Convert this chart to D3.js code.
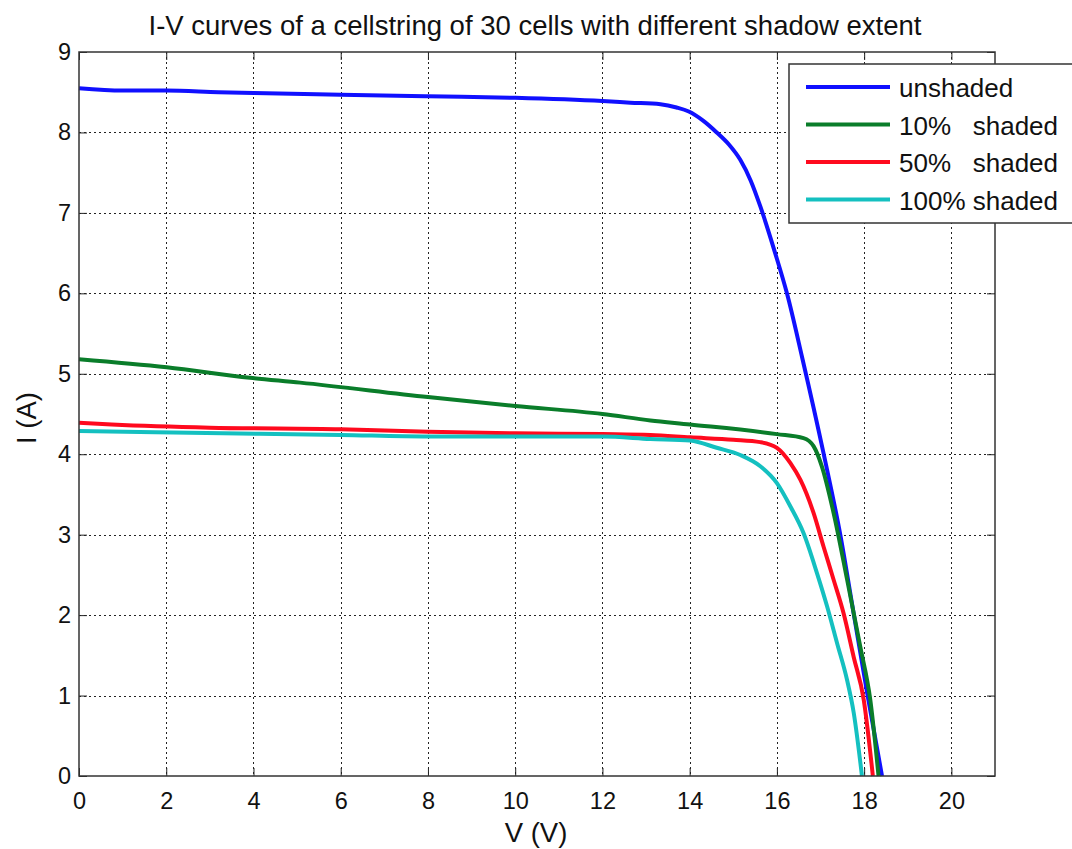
<!DOCTYPE html>
<html lang="en">
<head>
    <meta charset="UTF-8">
    <title>I-V curves of a cellstring</title>
    <script src="https://d3js.org/d3.v7.min.js"></script>
    <style>
        body { margin: 0; background: #fff; }
        svg { display: block; font-family: "Liberation Sans", Arial, Helvetica, sans-serif; }
        .grid line { stroke: #222; stroke-width: 1; stroke-dasharray: 2,3; shape-rendering: crispEdges; }
        .axis text { font-size: 23.5px; fill: #111; }
        .axis line, .axis path { stroke: #222; }
        .curve { fill: none; stroke-width: 4px; stroke-linejoin: round; }
        .legend text { font-size: 26px; fill: #111; white-space: pre; }
        .label { font-size: 27.5px; fill: #111; }
    </style>
</head>
<body>
<div id="chart"></div>
<script>
    // --- data (V in volts, I in amps) ---
    const xTicks = [0, 2, 4, 6, 8, 10, 12, 14, 16, 18, 20];
    const yTicks = [0, 1, 2, 3, 4, 5, 6, 7, 8, 9];

    const unshadedV = [0, 1, 2, 3.2, 4, 6, 8, 10, 12, 12.64, 13.33, 13.7, 13.98, 14.3, 14.62, 14.9, 15.16, 15.4, 15.62, 15.96, 16.23, 16.58, 17.07, 17.46, 17.76, 18.07, 18.41];
    const unshadedI = [8.55, 8.52, 8.52, 8.50, 8.49, 8.47, 8.45, 8.43, 8.39, 8.37, 8.35, 8.31, 8.26, 8.15, 8.0, 7.85, 7.66, 7.4, 7.08, 6.5, 6.0, 5.2, 4.01, 2.98, 2.02, 1.03, 0];

    const shaded10V = [0, 2.01, 3.92, 5.07, 8, 10, 12, 13.1, 14.01, 16.0, 16.61, 16.84, 17.03, 17.3, 17.61, 17.91, 18.14, 18.33];
    const shaded10I = [5.18, 5.08, 4.95, 4.89, 4.71, 4.60, 4.50, 4.42, 4.37, 4.25, 4.2, 4.1, 3.85, 3.27, 2.44, 1.61, 0.95, 0];

    const shaded50V = [0, 0.75, 3.0, 6, 8, 10, 12, 13.1, 14.01, 15.0, 15.62, 16.0, 16.31, 16.54, 16.84, 17.07, 17.3, 17.53, 17.76, 17.99, 18.2];
    const shaded50I = [4.39, 4.37, 4.33, 4.31, 4.28, 4.26, 4.25, 4.24, 4.21, 4.18, 4.15, 4.08, 3.89, 3.68, 3.27, 2.85, 2.44, 2.02, 1.48, 0.95, 0];

    const shaded100V = [0, 2.16, 6, 8, 12, 13.1, 14.01, 14.62, 15.16, 15.62, 16.0, 16.31, 16.61, 16.92, 17.15, 17.38, 17.61, 17.76, 17.95];
    const shaded100I = [4.29, 4.27, 4.24, 4.22, 4.22, 4.19, 4.17, 4.08, 3.99, 3.85, 3.64, 3.35, 3.02, 2.52, 2.11, 1.65, 1.19, 0.79, 0];

    const seriesNames = ["unshaded", "10%   shaded", "50%   shaded", "100% shaded"];
    const seriesColors = ["#1010ff", "#0a7d2a", "#ff0a1e", "#14c0c0"];
    const seriesV = [unshadedV, shaded10V, shaded50V, shaded100V];
    const seriesI = [unshadedI, shaded10I, shaded50I, shaded100I];

    // --- layout ---
    const W = 1072, H = 849;
    const plotL = 79, plotT = 52, plotR = 995, plotB = 776;

    const svg = d3.select("#chart").append("svg").attr("width", W).attr("height", H);

    const x = d3.scaleLinear().domain([0, 21]).range([plotL, plotR]);
    const y = d3.scaleLinear().domain([0, 9]).range([plotB, plotT]);

    // grid (dotted)
    const grid = svg.append("g").attr("class", "grid");
    grid.selectAll(".gx").data(xTicks.filter(d => d > 0)).join("line")
        .attr("x1", d => Math.round(x(d)) + 0.5).attr("x2", d => Math.round(x(d)) + 0.5)
        .attr("y1", plotT).attr("y2", plotB);
    grid.selectAll(".gy").data(yTicks.filter(d => d > 0 && d < 9)).join("line")
        .attr("y1", d => Math.round(y(d)) + 0.5).attr("y2", d => Math.round(y(d)) + 0.5)
        .attr("x1", plotL).attr("x2", plotR);

    // axes with inward ticks (MATLAB style)
    const tickLen = 8;
    svg.append("g").attr("class", "axis").attr("transform", `translate(0,${plotB})`)
        .call(d3.axisBottom(x).tickValues(xTicks).tickSize(-tickLen).tickPadding(16).tickFormat(d3.format("d")));
    svg.append("g").attr("class", "axis").attr("transform", `translate(${plotL},0)`)
        .call(d3.axisLeft(y).tickValues(yTicks).tickSize(-tickLen).tickPadding(8).tickFormat(d3.format("d")));
    svg.append("g").attr("class", "axis").attr("transform", `translate(0,${plotT})`)
        .call(d3.axisTop(x).tickValues(xTicks).tickSize(-tickLen).tickFormat(""));
    svg.append("g").attr("class", "axis").attr("transform", `translate(${plotR},0)`)
        .call(d3.axisRight(y).tickValues(yTicks).tickSize(-tickLen).tickFormat(""));
    svg.selectAll(".axis .domain").remove();

    // curves
    const line = d3.line().x(d => x(d[0])).y(d => y(d[1])).curve(d3.curveMonotoneX);
    seriesV.forEach((vs, k) => {
        svg.append("path").attr("class", "curve")
            .attr("stroke", seriesColors[k])
            .attr("d", line(vs.map((v, i) => [v, seriesI[k][i]])));
    });

    // frame
    svg.append("rect").attr("x", plotL).attr("y", plotT)
        .attr("width", plotR - plotL).attr("height", plotB - plotT)
        .attr("fill", "none").attr("stroke", "#333").attr("stroke-width", 1.5);

    // title and axis labels
    svg.append("text").attr("class", "label").attr("x", 535).attr("y", 35).attr("text-anchor", "middle")
        .text("I-V curves of a cellstring of 30 cells with different shadow extent");
    svg.append("text").attr("class", "label").attr("x", 536).attr("y", 842).attr("text-anchor", "middle")
        .text("V (V)");
    svg.append("text").attr("class", "label").attr("transform", "translate(36,418) rotate(-90)")
        .attr("text-anchor", "middle").text("I (A)");

    // legend
    const legend = svg.append("g").attr("class", "legend");
    legend.append("rect").attr("x", 789).attr("y", 64).attr("width", 290).attr("height", 159)
        .attr("fill", "#fff").attr("stroke", "#333").attr("stroke-width", 1.5);
    seriesNames.forEach((name, k) => {
        const ry = 87 + k * 37.5;
        legend.append("line").attr("x1", 806).attr("x2", 890).attr("y1", ry).attr("y2", ry)
            .attr("stroke", seriesColors[k]).attr("stroke-width", 4);
        legend.append("text").attr("x", 899).attr("y", ry + 10).text(name);
    });
</script>
</body>
</html>
